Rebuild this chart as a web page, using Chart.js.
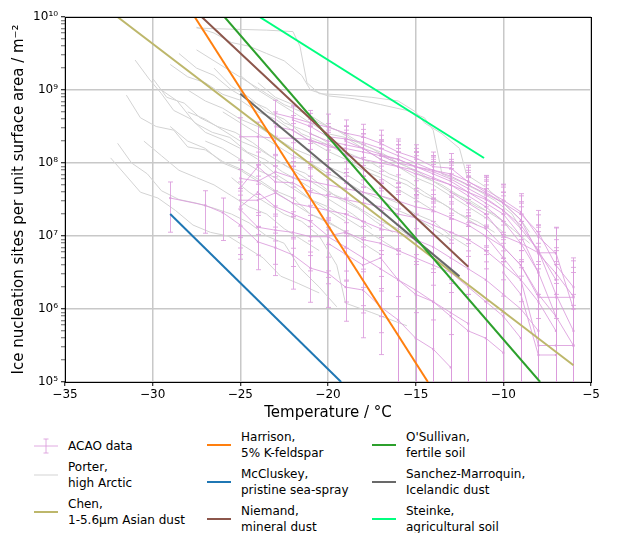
<!DOCTYPE html>
<html>
<head>
<meta charset="utf-8">
<script src="https://cdn.jsdelivr.net/npm/chart.js@4/dist/chart.umd.min.js"></script>
<style>
  body { margin: 0; background: #fff; font-family: "DejaVu Sans", sans-serif; }
  #wrap { position: relative; width: 620px; height: 533px; }
  #chartBox { position: absolute; left: 0; top: 0; width: 620px; height: 425px; }
  .col { position: absolute; font-size: 12px; line-height: 16px; color: #000; }
  .item { display: flex; align-items: center; margin-bottom: 5px; }
  .item svg { width: 24px; height: 16px; margin-right: 10px; flex: none; }
</style>
</head>
<body>
<div id="wrap">
  <div id="chartBox"><canvas id="chart"></canvas></div>
  <div id="legend"></div>
</div>
<script>
// Axis ticks
var xTicks = [-35, -30, -25, -20, -15, -10, -5];
var yMajorTicks = [1e5, 1e6, 1e7, 1e8, 1e9, 1e10];
var yTickLabels = ["10\u2075", "10\u2076", "10\u2077", "10\u2078", "10\u2079", "10\u00b9\u2070"];

// Literature parameterisations: [temperature, n_s]
var chen = [[-32, 1e10], [-6, 1.7e5]];
var harrison = [[-27.6, 1e10], [-14.3, 1e5]];
var mccluskey = [[-29, 2e7], [-19.25, 1e5]];
var niemand = [[-27.2, 1e10], [-12, 3.8e6]];
var osullivan = [[-25.9, 1e10], [-7.9, 1e5]];
var sanchez = [[-25, 8.9e8], [-12.5, 2.8e6]];
var steinke = [[-23.9, 1e10], [-11.1, 1.17e8]];

// Porter high Arctic spectra: [temperature, log10 n_s]
var porterLines = [
  [[-27.5,9.85],[-26.5,9.84],[-25,9.83],[-23.5,9.82],[-22,9.8],[-21.6,9.6],[-21.2,9.1],[-20.5,8.95],[-19,8.93],[-17.5,8.9],[-16,8.85],[-15,8.7],[-14.5,8.55],[-13.5,8.4],[-12.5,8.2],[-12.1,7.84],[-11,7.67],[-10,7.45],[-9,7.22],[-8.5,7.05]],
  [[-27.5,9.86],[-26.5,9.78],[-25.5,9.65],[-24.5,9.6],[-23.5,9.5],[-22.5,9.4],[-21.5,9.2],[-21,9.0],[-20,8.92],[-18.5,8.88],[-17,8.8],[-15.5,8.72],[-14.5,8.62],[-14,8.45],[-13.5,7.85],[-12.5,7.75],[-11.5,7.63],[-10.5,7.49],[-9.5,7.3],[-9,7.1]],
  [[-31,9.41],[-30.2,9.15],[-29.5,8.95],[-28.8,8.72],[-27.8,8.6],[-27,8.42],[-26,8.32],[-25,8.2],[-24,8.05],[-23,7.85],[-22,7.7],[-21,7.5],[-20,7.35],[-19,7.2]],
  [[-31.5,8.93],[-30.7,8.62],[-29.8,8.5],[-28.8,8.45],[-28,8.22],[-27,8.18],[-26,8.02],[-25,7.92],[-24,7.78],[-23,7.62],[-22,7.52],[-21,7.3],[-20,7.18],[-18.5,7.0]],
  [[-32,8.27],[-31.2,8.0],[-30.3,7.85],[-29.5,7.62],[-28.5,7.5],[-27.5,7.45],[-26.5,7.38],[-25.5,7.3],[-24.5,7.18],[-23.5,7.0],[-22.5,6.9],[-21.6,6.56],[-20.5,6.3],[-19.5,6.03]],
  [[-32.4,8.07],[-31.6,7.85],[-30.7,7.6],[-29.7,7.52],[-28.7,7.35],[-27.7,7.15],[-26.7,7.05],[-25.7,7.0],[-24.7,6.85],[-23.7,6.7],[-22.7,6.45],[-21.7,6.35],[-20.5,6.22]],
  [[-30,9.16],[-29.2,8.9],[-28.2,8.82],[-27.3,8.62],[-26.3,8.5],[-25.3,8.42],[-24.3,8.28],[-23.3,8.1],[-22.3,7.95],[-21.3,7.86],[-20.3,7.68],[-19.3,7.5],[-18.3,7.38],[-17.3,7.2],[-16.3,7.05]],
  [[-29.5,9.0],[-28.6,8.85],[-27.6,8.55],[-26.6,8.42],[-25.6,8.35],[-24.6,8.15],[-23.6,8.05],[-22.6,7.88],[-21.6,7.75],[-20.6,7.6],[-19.6,7.45],[-18.6,7.3],[-17.5,7.1]],
  [[-29,9.35],[-28,9.18],[-27,9.1],[-26,8.94],[-25,8.86],[-24,8.7],[-23,8.6],[-22,8.44],[-21,8.3],[-20,8.16],[-19,8.05],[-18,7.9],[-17,7.8],[-16,7.64],[-15,7.5],[-14,7.35]],
  [[-28.5,9.5],[-27.5,9.3],[-26.5,9.2],[-25.5,9.0],[-24.5,8.86],[-23.5,8.75],[-22.5,8.55],[-21.5,8.46],[-20.5,8.35],[-19.5,8.2],[-18.5,8.1],[-17.5,8.0],[-16.5,7.85],[-15.5,7.76],[-14.5,7.6],[-13.5,7.45],[-12.5,7.3],[-11.5,7.15]],
  [[-28,8.7],[-27,8.6],[-26,8.45],[-25,8.3],[-24,8.2],[-23,8.05],[-22,7.9],[-21,7.75],[-20,7.6],[-19,7.5],[-18,7.35],[-17,7.2],[-16,7.1],[-15,6.95]],
  [[-27.5,9.55],[-26.5,9.4],[-25.5,9.25],[-24.5,9.1],[-23.5,8.95],[-22.5,8.8],[-21.5,8.7],[-20.5,8.55],[-19.5,8.45],[-18.5,8.3],[-17.5,8.2],[-16.5,8.05],[-15.5,7.95],[-14.5,7.8],[-13.5,7.7],[-12.5,7.55],[-11.5,7.4],[-10.5,7.3],[-9.5,7.1]],
  [[-27,8.3],[-26,8.2],[-25,8.05],[-24,7.9],[-23,7.8],[-22,7.65],[-21,7.5],[-20,7.4],[-19,7.25],[-18,7.1],[-17,6.95],[-16,6.8]],
  [[-26.5,9.3],[-25.5,9.05],[-24.5,8.9],[-23.5,8.7],[-22.5,8.6],[-21.5,8.4],[-20.5,8.3],[-19.5,8.2],[-18.5,8.0],[-17.5,7.9],[-16.5,7.8],[-15.5,7.7],[-14.5,7.55],[-13.5,7.45],[-12.5,7.3],[-11.5,7.2],[-10.5,7.05]],
  [[-26,8.7],[-25,8.55],[-24,8.4],[-23,8.25],[-22,8.1],[-21,8.0],[-20,7.85],[-19,7.75],[-18,7.6],[-17,7.5],[-16,7.35],[-15,7.25],[-14,7.1],[-13,6.95]],
  [[-25.5,7.8],[-24.5,7.6],[-23.5,7.45],[-22.5,7.3],[-21.5,7.2],[-20.5,7.0],[-19.5,6.6],[-19,6.08],[-17.5,5.95],[-15.5,5.77]],
  [[-29,8.5],[-28,8.3],[-27,8.2],[-26,8.0],[-25,7.9],[-24,7.75],[-23,7.6],[-22,7.45],[-21,7.3],[-20,7.2],[-19,7.05],[-18,6.9],[-17,6.75]],
  [[-28,9.0],[-27,8.85],[-26,8.75],[-25,8.6],[-24,8.5],[-23,8.35],[-22,8.2],[-21,8.1],[-20,7.95],[-19,7.85],[-18,7.7],[-17,7.55],[-16,7.45],[-15,7.3],[-14,7.2],[-13,7.0],[-12,6.85]],
  [[-30.5,8.3],[-29.5,8.1],[-28.5,7.9],[-27.5,7.8],[-26.5,7.7],[-25.5,7.55],[-24.5,7.4],[-23.5,7.3],[-22.5,7.1],[-21.5,6.95],[-20.5,6.8]],
  [[-24,9.1],[-23,8.9],[-22,8.8],[-21,8.65],[-20,8.5],[-19,8.4],[-18,8.25],[-17,8.15],[-16,8.0],[-15,7.9],[-14,7.75],[-13,7.6],[-12,7.5],[-11,7.35],[-10,7.2],[-9,7.0],[-8.5,6.9]],
  [[-25,9.2],[-24,9.0],[-23,8.85],[-22,8.7],[-21,8.55],[-20,8.4],[-19,8.35],[-18,8.2],[-17,8.05],[-16,7.95],[-15,7.8],[-14,7.7],[-13,7.55],[-12,7.4],[-11,7.25],[-10,7.05]]
];

// ACAO spectra: first temperature, log10 n_s per degree, height of upper error cap (decades)
var acaoSeries = [
  { t0: -29, lg: [7.52,null,7.42,7.32,7.15,6.92,6.84,6.74,6.56,6.49,6.30,6.26,6.03,5.85,5.6,5.45,5.2],
    up: [0.22,null,0.2,0.2,0.22,0.2,0.2,0.22,0.22,0.22,0.22,0.25,0.25,0.32,0.35,0.4,0.45] },
  { t0: -25, lg: [7.36,7.12,7.08,7.05,6.99,6.99,6.85,6.7,6.55,6.4,6.26,6.1,5.95,5.8],
    up: [0.2,0.2,0.22,0.22,0.22,0.22,0.22,0.25,0.25,0.35,0.35,0.4,0.4,0.4] },
  { t0: -23, lg: [8.68,8.62,8.55,8.49,8.41,8.36,8.27,8.15,8.07,7.95,7.93,7.74,7.63,7.49,7.33,6.99,6.76],
    up: [0.18,0.17,0.17,0.18,0.18,0.17,0.18,0.18,0.18,0.2,0.2,0.2,0.2,0.22,0.25,0.3,0.35] },
  { t0: -22, lg: [8.59,8.5,8.36,8.33,8.28,8.2,8.1,8.0,7.9,7.82,7.7,7.58,7.45,7.22,6.76,6.49,6.17],
    up: [0.18,0.18,0.18,0.18,0.18,0.18,0.2,0.2,0.2,0.2,0.2,0.22,0.22,0.25,0.3,0.35,0.4] },
  { t0: -25, lg: [8.36,8.36,8.34,8.34,8.32,8.22,8.2,8.15,8.1,8.0,7.95,7.85,7.75,7.6,7.45,7.3,7.0,6.5,5.9],
    up: [0.26,0.2,0.2,0.2,0.2,0.2,0.2,0.2,0.2,0.2,0.2,0.2,0.22,0.22,0.25,0.25,0.3,0.35,0.45] },
  { t0: -23, lg: [8.5,8.45,8.3,8.25,8.12,8.05,8.0,7.95,7.9,7.8,7.7,7.55,7.4,7.2,6.9,6.5],
    up: [0.2,0.2,0.2,0.2,0.2,0.2,0.2,0.2,0.2,0.22,0.22,0.25,0.25,0.28,0.3,0.4] },
  { t0: -21, lg: [8.4,8.3,8.25,8.2,8.12,8.05,7.95,7.88,7.78,7.65,7.52,7.35,7.1,6.8,6.2,5.7],
    up: [0.2,0.2,0.2,0.2,0.2,0.2,0.2,0.2,0.22,0.22,0.25,0.25,0.3,0.35,0.45,0.5] },
  { t0: -25, lg: [7.79,7.75,7.88,7.8,7.75,7.7,7.65,7.6,7.55,7.48,7.4,7.35,7.25,7.15,7.0,6.85,6.6,6.2,5.9,5.5],
    up: [0.25,0.22,0.22,0.22,0.22,0.22,0.22,0.22,0.22,0.25,0.25,0.28,0.28,0.3,0.3,0.35,0.4,0.45,0.5,0.55] },
  { t0: -25, lg: [7.66,7.95,7.74,7.73,7.6,7.55,7.5,7.45,7.4,7.3,7.25,7.15,7.05,6.95,6.8,6.6,6.4,6.1,5.7],
    up: [0.25,0.2,0.22,0.22,0.22,0.22,0.22,0.22,0.25,0.3,0.3,0.3,0.32,0.32,0.35,0.35,0.4,0.45,0.5] },
  { t0: -25, lg: [7.49,7.49,7.59,7.45,7.4,7.35,7.3,7.2,7.1,7.05,6.95,6.85,6.7,6.55,6.4,6.2,6.0,5.7],
    up: [0.25,0.22,0.22,0.22,0.22,0.22,0.22,0.25,0.25,0.32,0.35,0.35,0.35,0.4,0.4,0.45,0.45,0.5] },
  { t0: -25, lg: [7.4,7.6,7.4,7.3,7.2,7.0,7.05,6.95,6.9,6.8,6.7,6.6,6.5,6.3,6.1,5.9,5.6],
    up: [0.25,0.22,0.22,0.22,0.22,0.25,0.25,0.25,0.25,0.35,0.4,0.4,0.4,0.42,0.45,0.5,0.5] },
  { t0: -20, lg: [6.9,6.75,6.6,6.7,6.4,6.2,6.1,5.9,5.7,5.6,5.4],
    up: [0.22,0.25,0.25,0.28,0.4,0.45,0.45,0.5,0.5,0.5,0.55] },
  { t0: -13, lg: [7.6,7.45,7.3,7.0,6.9,6.77,6.77,6.0],
    up: [0.25,0.25,0.25,0.3,0.3,0.35,0.35,0.5] },
  { t0: -12, lg: [7.2,7.1,6.85,6.6,6.16,6.16,6.16],
    up: [0.3,0.3,0.3,0.35,0.45,0.45,0.5] },
  { t0: -11, lg: [7.0,6.7,6.4,5.5,5.5,5.5],
    up: [0.3,0.35,0.4,0.5,0.5,0.5] },
  { t0: -10, lg: [6.5,6.2,5.37,5.37],
    up: [0.4,0.45,0.5,0.5] },
  { t0: -17, lg: [8.1,8.05,7.95,7.9,7.85,7.75,7.6,7.45,7.3,7.05,6.6,6.3],
    up: [0.2,0.2,0.2,0.2,0.2,0.22,0.22,0.25,0.25,0.3,0.35,0.4] },
  { t0: -19, lg: [8.3,8.2,8.05,7.95,7.85,7.78,7.7,7.6,7.5,7.35,7.15,6.8,6.4],
    up: [0.2,0.2,0.2,0.2,0.2,0.2,0.22,0.22,0.25,0.25,0.3,0.35,0.4] }
];

var acaoColor = "rgba(218,155,220,0.85)";
var porterColor = "#d3d3d3";

var refLines = [
  { label: "Harrison,\n5% K-feldspar", data: harrison, color: "#ff7f0e" },
  { label: "McCluskey,\npristine sea-spray", data: mccluskey, color: "#1f77b4" },
  { label: "Niemand,\nmineral dust", data: niemand, color: "#8c564b" },
  { label: "O'Sullivan,\nfertile soil", data: osullivan, color: "#2ca02c" },
  { label: "Sanchez-Marroquin,\nIcelandic dust", data: sanchez, color: "#696969" },
  { label: "Steinke,\nagricultural soil", data: steinke, color: "#00ff7f" },
  { label: "Chen,\n1-5.6\u00b5m Asian dust", data: chen, color: "#bdb76b" }
];

var datasets = [];

refLines.forEach(function (r) {
  datasets.push({
    label: r.label,
    data: r.data.map(function (p) { return { x: p[0], y: p[1] }; }),
    borderColor: r.color,
    borderWidth: 2,
    pointRadius: 0,
    order: 0
  });
});

acaoSeries.forEach(function (s) {
  var pts = [], hi = [], lo = [];
  s.lg.forEach(function (v, i) {
    if (v === null) { pts.push({ x: s.t0 + i, y: null }); hi.push(null); lo.push(null); return; }
    var val = Math.pow(10, v);
    var top = Math.pow(10, v + s.up[i]);
    pts.push({ x: s.t0 + i, y: val });
    hi.push(top);
    lo.push(2 * val - top);
  });
  datasets.push({
    label: "ACAO data",
    data: pts,
    errHigh: hi,
    errLow: lo,
    borderColor: acaoColor,
    backgroundColor: acaoColor,
    borderWidth: 1,
    pointRadius: 1.5,
    pointStyle: "rect",
    pointBorderWidth: 0,
    spanGaps: true,
    order: 1
  });
});

porterLines.forEach(function (line) {
  datasets.push({
    label: "Porter, high Arctic",
    data: line.map(function (p) { return { x: p[0], y: Math.pow(10, p[1]) }; }),
    borderColor: porterColor,
    borderWidth: 1,
    pointRadius: 0,
    order: 2
  });
});

// Error bars drawn right after each ACAO line so reference lines stay on top
var errorBars = {
  id: "errorBars",
  afterDatasetDraw: function (chart, args) {
    var ds = chart.data.datasets[args.index];
    if (!ds.errHigh) return;
    var xs = chart.scales.x, ys = chart.scales.y, a = chart.chartArea, ctx = chart.ctx;
    ctx.save();
    ctx.beginPath();
    ctx.rect(a.left, a.top, a.right - a.left, a.bottom - a.top);
    ctx.clip();
    ctx.strokeStyle = ds.borderColor;
    ctx.lineWidth = 1;
    ds.data.forEach(function (p, i) {
      if (p.y === null) return;
      var x = Math.round(xs.getPixelForValue(p.x)) + 0.5;
      var yTop = ys.getPixelForValue(ds.errHigh[i]);
      var low = ds.errLow[i];
      var yBot = low > 0 ? ys.getPixelForValue(low) : a.bottom + 5;
      ctx.beginPath();
      ctx.moveTo(x, yTop); ctx.lineTo(x, yBot);
      ctx.moveTo(x - 2.5, yTop); ctx.lineTo(x + 2.5, yTop);
      if (low > 0) { ctx.moveTo(x - 2.5, yBot); ctx.lineTo(x + 2.5, yBot); }
      ctx.stroke();
    });
    ctx.restore();
  }
};

var frame = {
  id: "frame",
  afterDraw: function (chart) {
    var a = chart.chartArea, ctx = chart.ctx;
    ctx.save();
    ctx.strokeStyle = "#000";
    ctx.lineWidth = 1;
    ctx.strokeRect(Math.round(a.left) + 0.5, Math.round(a.top) + 0.5, Math.round(a.right - a.left), Math.round(a.bottom - a.top));
    ctx.restore();
  }
};

function isDecade(v) {
  var l = Math.log10(v);
  return Math.abs(l - Math.round(l)) < 1e-9;
}

var ctx = document.getElementById("chart").getContext("2d");
var chart = new Chart(ctx, {
  type: "line",
  data: { datasets: datasets },
  plugins: [errorBars, frame],
  options: {
    responsive: true,
    maintainAspectRatio: false,
    animation: false,
    layout: { padding: { left: 0, top: 17, right: 29, bottom: 0 } },
    plugins: { legend: { display: false }, tooltip: { enabled: false } },
    scales: {
      x: {
        type: "linear",
        min: -35,
        max: -5,
        afterBuildTicks: function (s) { s.ticks = xTicks.map(function (v) { return { value: v }; }); },
        afterFit: function (s) { s.height = 43; },
        ticks: {
          color: "#000",
          font: { family: "DejaVu Sans", size: 12 },
          padding: 2,
          callback: function (v) { return String(v).replace("-", "\u2212"); }
        },
        grid: { color: "#c8c8c8", lineWidth: 1.5, tickColor: "#000", tickLength: 4, tickWidth: 1 },
        border: { display: false },
        title: {
          display: true,
          text: "Temperature / \u00b0C",
          color: "#000",
          font: { family: "DejaVu Sans", size: 15 },
          padding: { top: 0, bottom: 3 }
        }
      },
      y: {
        type: "logarithmic",
        min: 1e5,
        max: 1e10,
        afterBuildTicks: function (s) {
          var t = [];
          for (var e = 5; e < 10; e++) {
            for (var m = 1; m < 10; m++) t.push({ value: m * Math.pow(10, e) });
          }
          t.push({ value: 1e10 });
          s.ticks = t;
        },
        afterFit: function (s) { s.width = 65; },
        ticks: {
          autoSkip: false,
          color: "#000",
          font: { family: "DejaVu Sans", size: 12 },
          padding: 3,
          callback: function (v) {
            var k = yMajorTicks.findIndex(function (m) { return Math.abs(m - v) / m < 1e-9; });
            return k >= 0 ? yTickLabels[k] : "";
          }
        },
        grid: {
          color: function (c) { return c.tick && isDecade(c.tick.value) ? "#c8c8c8" : "rgba(0,0,0,0)"; },
          lineWidth: 1.5,
          tickColor: "#000",
          tickLength: 4,
          tickWidth: function (c) { return c.tick && isDecade(c.tick.value) ? 1 : 0.6; }
        },
        border: { display: false },
        title: {
          display: true,
          text: "Ice nucleation sites per unit surface area / m\u207b\u00b2",
          color: "#000",
          font: { family: "DejaVu Sans", size: 15 },
          padding: { top: 10, bottom: 0 }
        }
      }
    }
  }
});

// Legend, column by column as in the figure
var errIcon = '<svg viewBox="0 0 24 16"><line x1="0" y1="8" x2="24" y2="8" stroke="' + acaoColor + '" stroke-width="1"/>' +
  '<line x1="12" y1="1" x2="12" y2="15" stroke="' + acaoColor + '" stroke-width="1"/>' +
  '<line x1="9.5" y1="1" x2="14.5" y2="1" stroke="' + acaoColor + '"/><line x1="9.5" y1="15" x2="14.5" y2="15" stroke="' + acaoColor + '"/></svg>';
function lineIcon(color, w) {
  return '<svg viewBox="0 0 24 16"><line x1="0" y1="8" x2="24" y2="8" stroke="' + color + '" stroke-width="' + w + '"/></svg>';
}
var legendCols = [
  { left: 34, top: 438, items: [
    { icon: errIcon, text: "ACAO data" },
    { icon: lineIcon(porterColor, 1), text: "Porter,\nhigh Arctic" },
    { icon: lineIcon(refLines[6].color, 2), text: refLines[6].label } ] },
  { left: 207, top: 429, items: [0, 1, 2].map(function (i) { return { icon: lineIcon(refLines[i].color, 2), text: refLines[i].label }; }) },
  { left: 372, top: 429, items: [3, 4, 5].map(function (i) { return { icon: lineIcon(refLines[i].color, 2), text: refLines[i].label }; }) }
];
var legend = document.getElementById("legend");
legendCols.forEach(function (c) {
  var col = document.createElement("div");
  col.className = "col";
  col.style.left = c.left + "px";
  col.style.top = c.top + "px";
  c.items.forEach(function (it) {
    var row = document.createElement("div");
    row.className = "item";
    row.innerHTML = it.icon + "<span>" + it.text.replace("\n", "<br>") + "</span>";
    col.appendChild(row);
  });
  legend.appendChild(col);
});
</script>
</body>
</html>
